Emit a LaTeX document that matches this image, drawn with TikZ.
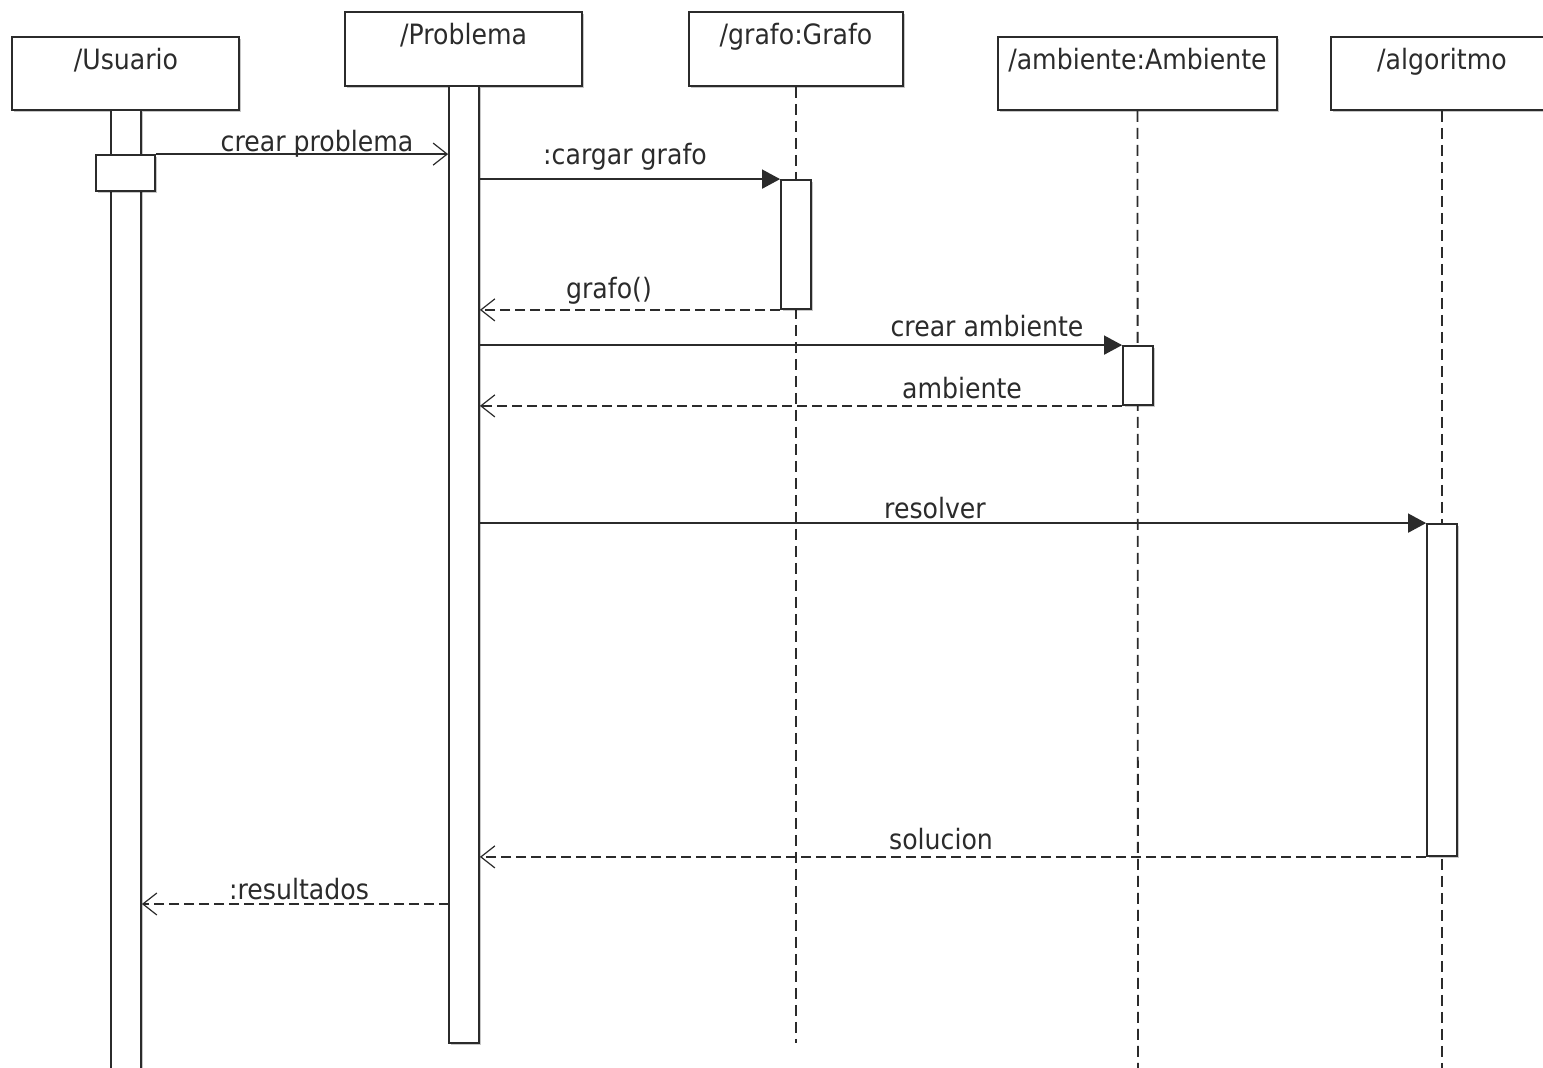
\documentclass[tikz,border=0pt]{standalone}
\usepackage{fontspec}
\setmainfont[FakeStretch=0.9]{DejaVu Sans}
\usetikzlibrary{arrows.meta,shadows}
\definecolor{ink}{HTML}{2B2B2B}

\begin{document}
\begin{tikzpicture}[x=1pt,y=-1pt,
  objbox/.style={draw=ink, fill=white, line width=1.8pt, inner sep=0pt,
    drop shadow={shadow xshift=1.5pt, shadow yshift=-1.5pt, fill=black, opacity=0.22}},
  actbar/.style={draw=ink, fill=white, line width=1.8pt, inner sep=0pt, minimum width=30pt,
    drop shadow={shadow xshift=1.5pt, shadow yshift=-1.5pt, fill=black, opacity=0.22}},
  lifeline/.style={draw=ink, line width=1.8pt, dash pattern=on 11pt off 6pt},
  callmsg/.style={draw=ink, line width=1.6pt, -{Triangle[length=18pt,width=19pt]}},
  sendmsg/.style={draw=ink, line width=1.6pt, -{Straight Barb[length=14pt,width=22pt,line width=1.2pt]}},
  replymsg/.style={sendmsg, dash pattern=on 10pt off 5pt},
  lbl/.style={font=\fontsize{28}{32}\selectfont, text=ink, inner sep=0pt, anchor=base}]

\useasboundingbox[fill=white] (0,0) rectangle (1543,1068);

% lifeline heads
\node[objbox, minimum width=227pt, minimum height=73pt] (usr) at (125.5,73.5) {};
\node[objbox, minimum width=237pt, minimum height=74pt] (prb) at (463.5,49) {};
\node[objbox, minimum width=214pt, minimum height=74pt] (gfo) at (796,49) {};
\node[objbox, minimum width=279pt, minimum height=73pt] (amb) at (1137.5,73.5) {};
\node[objbox, minimum width=222pt, minimum height=73pt] (alg) at (1442,73.5) {};

\node[lbl] (usrT) at (126,69) {/Usuario};
\node[lbl] (prbT) at (463.5,44) {/Problema};
\node[lbl] (gfoT) at (796,44) {/grafo:Grafo};
\node[lbl] (ambT) at (1137.5,69) {/ambiente:Ambiente};
\node[lbl] (algT) at (1442,69) {/algoritmo};

% dashed lifelines
\coordinate (gEnd) at (796,1043);
\coordinate (aEnd) at (1138,1070);
\coordinate (lEnd) at (1442,1070);
\draw[lifeline] (gfo.south) -- (gEnd);
\draw[lifeline] (amb.south) -- (aEnd);
\draw[lifeline] (alg.south) -- (lEnd);

% activation bars
\node[actbar, minimum height=980pt] (ubar) at (126,600) {};
\node[objbox, minimum width=59pt, minimum height=36pt] (ubox) at (125.5,173) {};
\node[actbar, minimum height=957pt] (pbar) at (464,564.5) {};
\node[actbar, minimum height=129pt] (gbar) at (796,244.5) {};
\node[actbar, minimum height=59pt] (abar) at (1138,375.5) {};
\node[actbar, minimum height=332pt] (lbar) at (1442,690) {};

% messages
\coordinate (resFrom) at (449,904);
\draw[sendmsg] (ubox.north east) -- (pbar.west |- ubox.north east);
\draw[callmsg] (pbar.east |- gbar.north west) -- (gbar.north west);
\draw[replymsg] (gbar.south west) -- (pbar.east |- gbar.south west);
\draw[callmsg] (pbar.east |- abar.north west) -- (abar.north west);
\draw[replymsg] (abar.south west) -- (pbar.east |- abar.south west);
\draw[callmsg] (pbar.east |- lbar.north west) -- (lbar.north west);
\draw[replymsg] (lbar.south west) -- (pbar.east |- lbar.south west);
\draw[replymsg] (resFrom) -- (ubar.east |- resFrom);

% message labels
\node[lbl] (m1) at (317,151) {crear problema};
\node[lbl] (m2) at (625,164) {:cargar grafo};
\node[lbl] (m3) at (609,298) {grafo()};
\node[lbl] (m4) at (987,336) {crear ambiente};
\node[lbl] (m5) at (962,398) {ambiente};
\node[lbl] (m6) at (935,518) {resolver};
\node[lbl] (m7) at (941,849) {solucion};
\node[lbl] (m8) at (299,899) {:resultados};

\end{tikzpicture}
\end{document}
